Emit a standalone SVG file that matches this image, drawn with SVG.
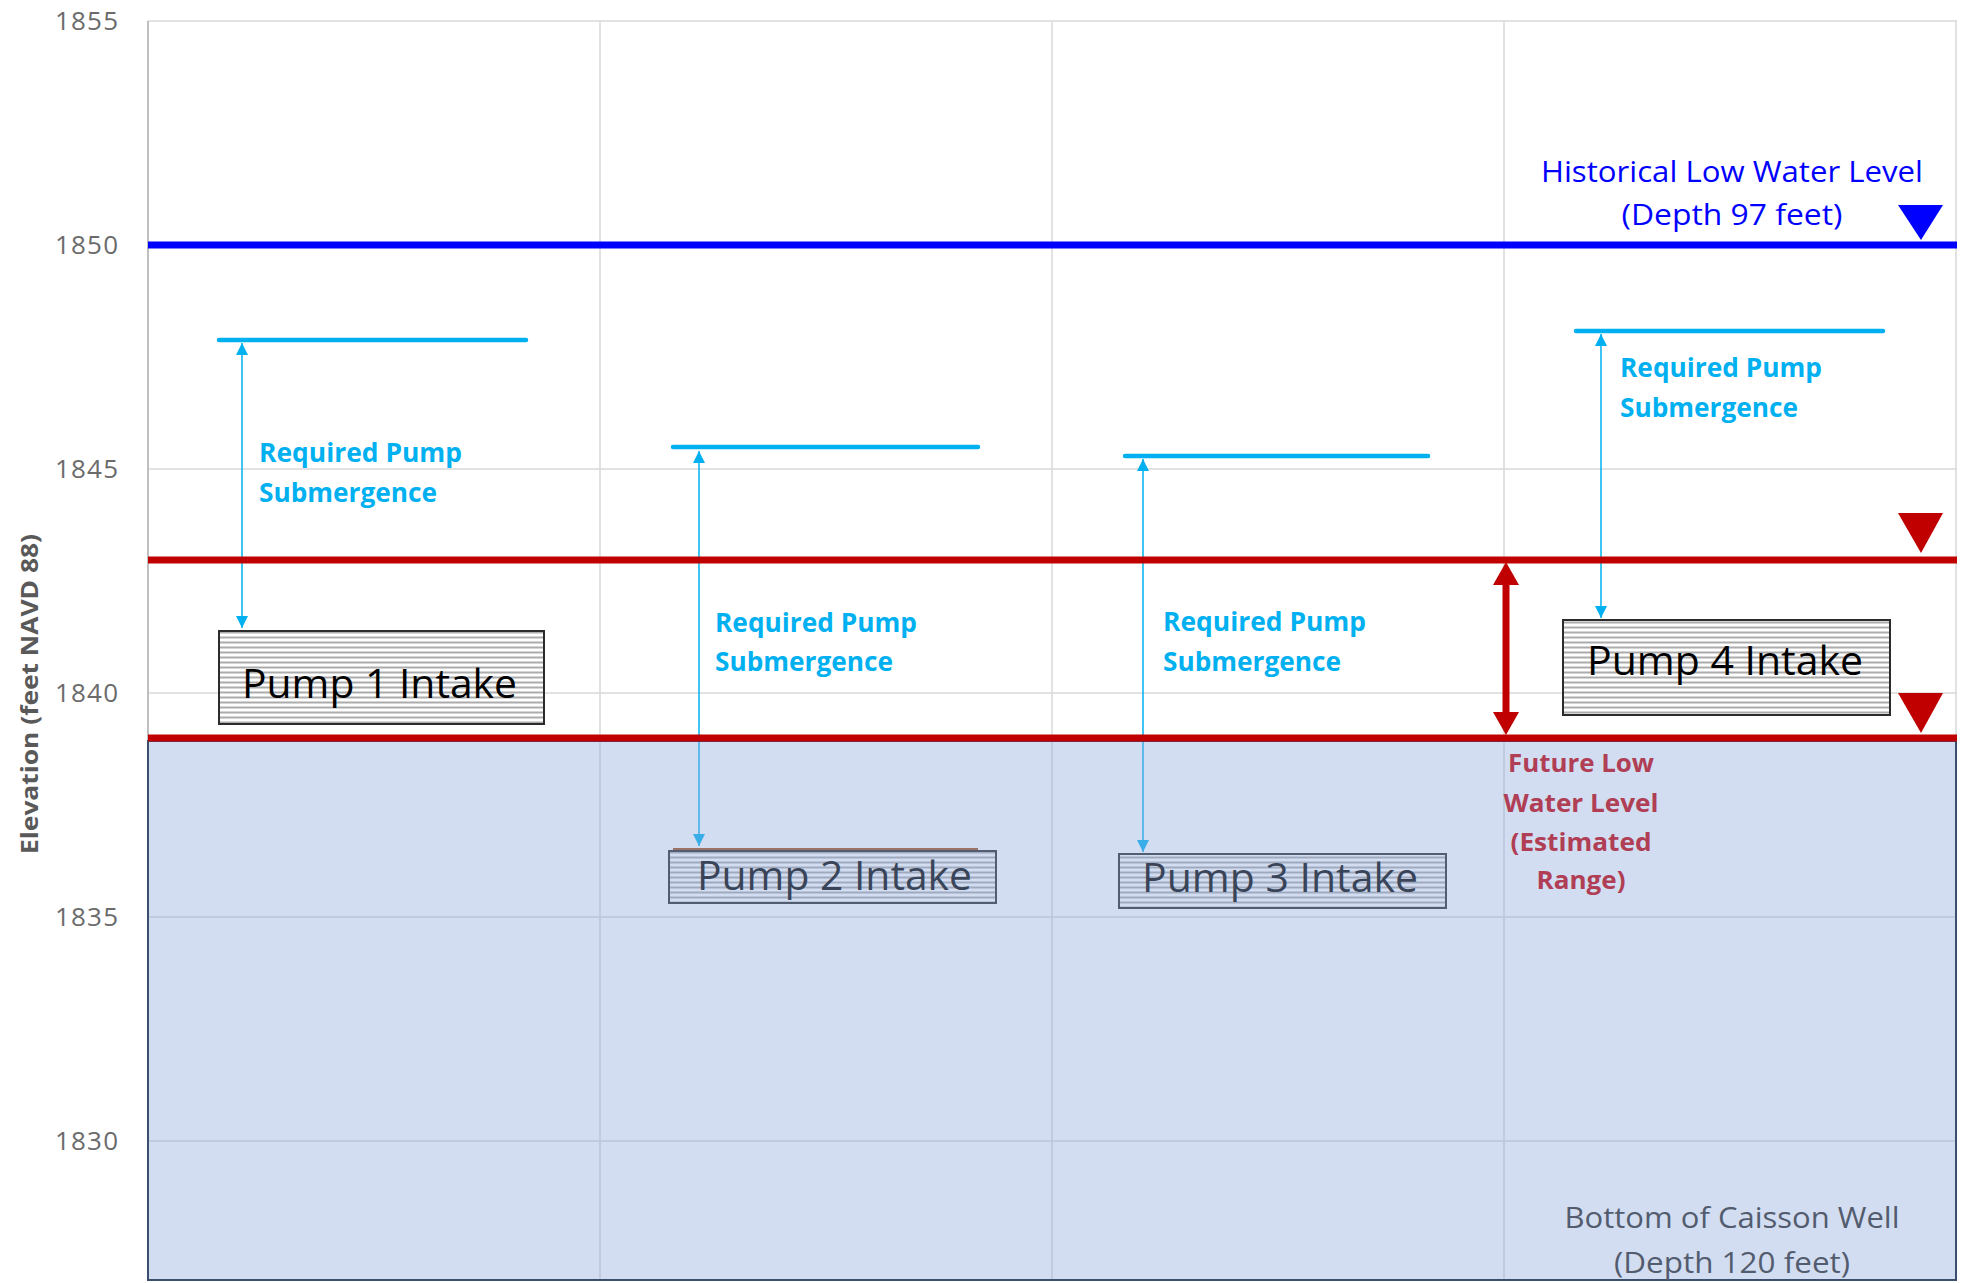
<svg xmlns="http://www.w3.org/2000/svg" width="1969" height="1283" viewBox="0 0 1969 1283">
<style>
.grid{stroke:#D9D9D9;stroke-width:1.5;fill:none}
.tick{font-family:"Open Sans","Liberation Sans",sans-serif;font-size:26px;fill:#6B6B6B;text-anchor:end}
.req{font-family:"Open Sans","Liberation Sans",sans-serif;font-size:27px;font-weight:bold;fill:#00B0F0}
.pump{font-family:"Open Sans","Liberation Sans",sans-serif;font-size:40px;fill:#000}
.box{fill:url(#hatch);stroke:#2B2B2B;stroke-width:2}
.top{stroke:#00B0F0;stroke-width:4.5;stroke-linecap:round}
.dim{stroke:#00B0F0;stroke-width:1.5;fill:none;marker-start:url(#arrC);marker-end:url(#arrC)}
.fut{font-family:"Open Sans","Liberation Sans",sans-serif;font-size:25px;font-weight:bold;fill:#B03E55;text-anchor:middle}
.hist{font-family:"Open Sans","Liberation Sans",sans-serif;font-size:30px;fill:#0000FF;text-anchor:middle}
.bot{font-family:"Open Sans","Liberation Sans",sans-serif;font-size:30px;fill:#525C6E;text-anchor:middle}
</style>
<defs>
<pattern id="hatch" patternUnits="userSpaceOnUse" width="10" height="5">
<rect width="10" height="5" fill="#FFFFFF"/>
<rect y="1.5" width="10" height="2" fill="#ABABAB"/>
</pattern>
<marker id="arrC" markerUnits="userSpaceOnUse" markerWidth="12" markerHeight="12" viewBox="0 0 12 12" refX="12" refY="6" orient="auto-start-reverse">
<path d="M0,0 L12,6 L0,12 z" fill="#00B0F0"/>
</marker>
<marker id="arrR" markerUnits="userSpaceOnUse" markerWidth="23" markerHeight="26" viewBox="0 0 23 26" refX="5" refY="13" orient="auto-start-reverse">
<path d="M0,0 L23,13 L0,26 z" fill="#C00000"/>
</marker>
</defs>
<rect width="1969" height="1283" fill="#FFFFFF"/>
<g id="gridlines">
<line class="grid" x1="148" y1="21" x2="1957" y2="21"/>
<line class="grid" x1="148" y1="469" x2="1957" y2="469"/>
<line class="grid" x1="148" y1="693" x2="1957" y2="693"/>
<line class="grid" x1="148" y1="917" x2="1957" y2="917"/>
<line class="grid" x1="148" y1="1141" x2="1957" y2="1141"/>
<line class="grid" x1="600" y1="21" x2="600" y2="1280"/>
<line class="grid" x1="1052" y1="21" x2="1052" y2="1280"/>
<line class="grid" x1="1504" y1="21" x2="1504" y2="1280"/>
<line class="grid" x1="1956" y1="21" x2="1956" y2="1280"/>
<line x1="148" y1="21" x2="148" y2="1280" stroke="#BFBFBF" stroke-width="2"/>
</g>
<g id="axis">
<text class="tick" x="118" y="30" textLength="63">1855</text>
<text class="tick" x="118" y="254" textLength="63">1850</text>
<text class="tick" x="118" y="478" textLength="63">1845</text>
<text class="tick" x="118" y="702" textLength="63">1840</text>
<text class="tick" x="118" y="926" textLength="63">1835</text>
<text class="tick" x="118" y="1150" textLength="63">1830</text>
<text transform="translate(38,694) rotate(-90)" font-family="Open Sans, Liberation Sans, sans-serif" font-size="24" font-weight="bold" fill="#595959" text-anchor="middle" textLength="320" lengthAdjust="spacingAndGlyphs">Elevation (feet NAVD 88)</text>
</g>
<g id="connectors">
<line class="dim" x1="242" y1="343" x2="242" y2="628"/>
<line class="dim" x1="699" y1="451" x2="699" y2="846"/>
<line class="dim" x1="1143" y1="459" x2="1143" y2="852"/>
<line class="dim" x1="1601" y1="334" x2="1601" y2="618"/>
<line x1="1506" y1="580" x2="1506" y2="717" stroke="#C00000" stroke-width="7" marker-start="url(#arrR)" marker-end="url(#arrR)"/>
</g>
<g id="pump2">
<line x1="673" y1="849" x2="978" y2="849" stroke="#A64B1A" stroke-width="2"/>
<rect class="box" x="669" y="851" width="327" height="52"/>
<text class="pump" x="697" y="890" textLength="275" lengthAdjust="spacingAndGlyphs">Pump 2 Intake</text>
</g>
<g id="pump3">
<rect class="box" x="1119" y="854" width="327" height="54"/>
<text class="pump" x="1142" y="892" textLength="276" lengthAdjust="spacingAndGlyphs">Pump 3 Intake</text>
</g>
<g id="caisson">
<rect x="148" y="741" width="1808" height="539" fill="#8FAADC" fill-opacity="0.4" stroke="#3B4E6E" stroke-width="2"/>
<text class="bot" x="1732" y="1228" textLength="335" lengthAdjust="spacingAndGlyphs">Bottom of Caisson Well</text>
<text class="bot" x="1732" y="1273" textLength="236" lengthAdjust="spacingAndGlyphs">(Depth 120 feet)</text>
</g>
<g id="future-low-level">
<line x1="148" y1="560" x2="1957" y2="560" stroke="#C00000" stroke-width="7"/>
<line x1="148" y1="738" x2="1957" y2="738" stroke="#C00000" stroke-width="7"/>
<polygon points="1898,513 1943,513 1921,553" fill="#C00000"/>
<polygon points="1898,693 1943,693 1921,733" fill="#C00000"/>
<text class="fut" x="1581" y="772" textLength="146" lengthAdjust="spacingAndGlyphs">Future Low</text>
<text class="fut" x="1581" y="812" textLength="155" lengthAdjust="spacingAndGlyphs">Water Level</text>
<text class="fut" x="1581" y="851" textLength="141" lengthAdjust="spacingAndGlyphs">(Estimated</text>
<text class="fut" x="1581" y="889" textLength="89" lengthAdjust="spacingAndGlyphs">Range)</text>
</g>
<g id="historical-low-level">
<line x1="148" y1="245" x2="1957" y2="245" stroke="#0000FF" stroke-width="7"/>
<polygon points="1898,205 1943,205 1921,240" fill="#0000FF"/>
<text class="hist" x="1732" y="182" textLength="382" lengthAdjust="spacingAndGlyphs">Historical Low Water Level</text>
<text class="hist" x="1732" y="225" textLength="221" lengthAdjust="spacingAndGlyphs">(Depth 97 feet)</text>
</g>
<g id="submergence1">
<line class="top" x1="219" y1="340" x2="526" y2="340"/>
<text class="req" x="259" y="462" textLength="203" lengthAdjust="spacingAndGlyphs">Required Pump</text>
<text class="req" x="259" y="502" textLength="178" lengthAdjust="spacingAndGlyphs">Submergence</text>
</g>
<g id="submergence2">
<line class="top" x1="673" y1="447" x2="978" y2="447"/>
<text class="req" x="715" y="632" textLength="202" lengthAdjust="spacingAndGlyphs">Required Pump</text>
<text class="req" x="715" y="671" textLength="178" lengthAdjust="spacingAndGlyphs">Submergence</text>
</g>
<g id="submergence3">
<line class="top" x1="1125" y1="456" x2="1428" y2="456"/>
<text class="req" x="1163" y="631" textLength="203" lengthAdjust="spacingAndGlyphs">Required Pump</text>
<text class="req" x="1163" y="671" textLength="178" lengthAdjust="spacingAndGlyphs">Submergence</text>
</g>
<g id="submergence4">
<line class="top" x1="1576" y1="331" x2="1883" y2="331"/>
<text class="req" x="1620" y="377" textLength="202" lengthAdjust="spacingAndGlyphs">Required Pump</text>
<text class="req" x="1620" y="417" textLength="178" lengthAdjust="spacingAndGlyphs">Submergence</text>
</g>
<g id="pump1">
<rect class="box" x="219" y="631" width="325" height="93"/>
<text class="pump" x="242" y="698" textLength="275" lengthAdjust="spacingAndGlyphs">Pump 1 Intake</text>
</g>
<g id="pump4">
<rect class="box" x="1563" y="620" width="327" height="95"/>
<text class="pump" x="1587" y="675" textLength="276" lengthAdjust="spacingAndGlyphs">Pump 4 Intake</text>
</g>
</svg>
